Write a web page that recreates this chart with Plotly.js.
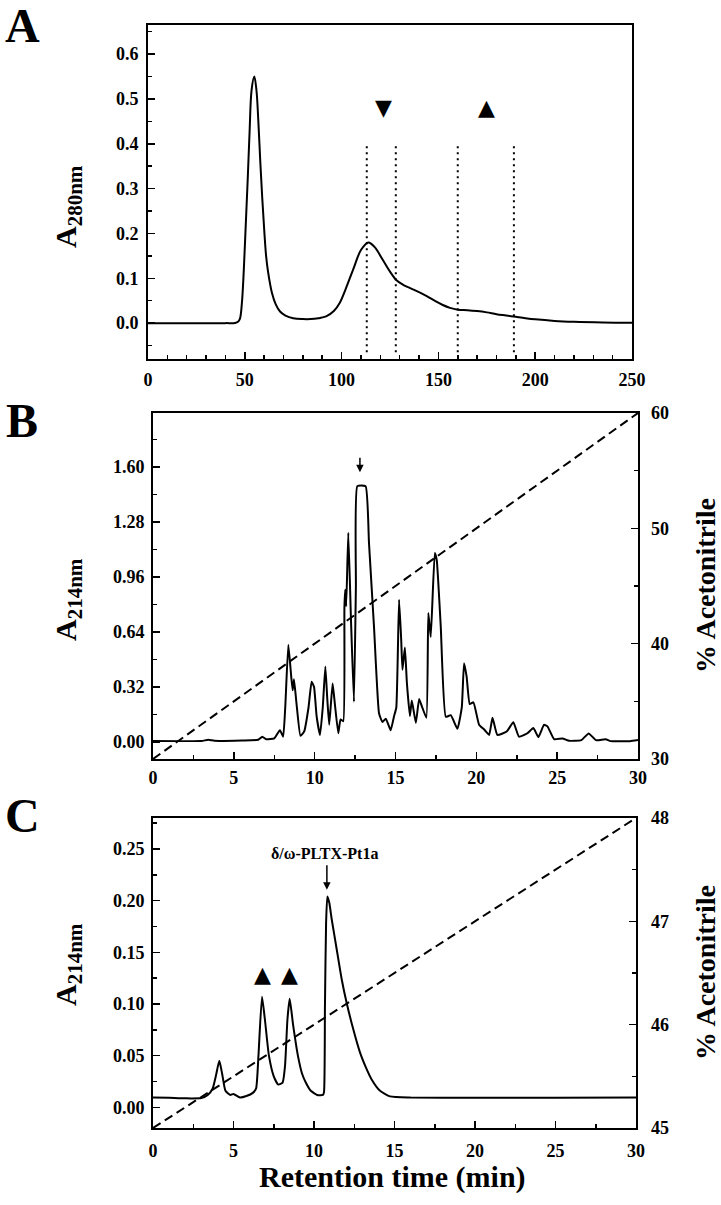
<!DOCTYPE html>
<html>
<head>
<meta charset="utf-8">
<script src="https://cdn.plot.ly/plotly-3.0.1.min.js"></script>
<style>html,body{margin:0;padding:0;background:#fff}#chart{width:721px;height:1205px}</style>
</head>
<body>
<div id="chart"></div>
<script>
// ---------- Panel A: gel filtration, A280 ----------
const A_time = [0, 20, 40, 45, 46.5, 47.5, 48.5, 49.5, 50.5, 51.5, 52.5, 53.5, 54.9, 56, 57, 58, 59, 60, 61, 62, 64, 66, 68.2, 71, 75, 80, 84, 88, 92, 96, 99, 102, 106, 110, 113.8, 117, 121, 125, 128.5, 132, 136, 140, 144, 148, 152, 156, 160, 165, 170, 175, 180, 185, 190, 195, 200, 210, 220, 235, 250];
const A_abs  = [0, 0, 0, 0.0005, 0.003, 0.01, 0.045, 0.12, 0.22, 0.32, 0.43, 0.52, 0.55, 0.52, 0.45, 0.36, 0.28, 0.21, 0.15, 0.115, 0.068, 0.042, 0.026, 0.017, 0.011, 0.009, 0.009, 0.011, 0.015, 0.027, 0.045, 0.075, 0.12, 0.163, 0.18, 0.17, 0.143, 0.115, 0.095, 0.085, 0.077, 0.069, 0.06, 0.05, 0.041, 0.034, 0.030, 0.029, 0.027, 0.024, 0.02, 0.017, 0.014, 0.011, 0.0085, 0.005, 0.003, 0.0015, 0.001];
const A_fractionCuts = [113, 128, 160, 189];
const A_markers = [{x: 121.4, sym: '▼'}, {x: 174.6, sym: '▲'}];

// ---------- Panel B: RP-HPLC, A214 ----------
const B_time = [0, 3.0, 3.42, 3.8, 5.5, 6.5, 6.76, 7.0, 7.5, 7.85, 8.05, 8.18, 8.37, 8.55, 8.64, 8.72, 8.88, 9.12, 9.35, 9.62, 9.81, 9.96, 10.12, 10.33, 10.5, 10.66, 10.78, 10.9, 11.11, 11.25, 11.46, 11.6, 11.77, 11.84, 11.89, 11.95, 12.08, 12.25, 12.43, 12.55, 12.64, 13.15, 13.36, 13.67, 13.98, 14.19, 14.4, 14.7, 14.9, 15.05, 15.22, 15.35, 15.43, 15.58, 15.7, 15.89, 16.01, 16.26, 16.46, 16.62, 16.91, 17.03, 17.18, 17.43, 17.55, 17.8, 18.11, 18.42, 18.83, 19.1, 19.24, 19.4, 19.59, 19.82, 20.17, 20.5, 20.79, 21.0, 21.3, 21.88, 22.29, 22.64, 23.16, 23.53, 23.84, 24.19, 24.4, 24.81, 25.33, 25.74, 26.5, 26.95, 27.4, 28.0, 28.3, 29.5, 30];
const B_abs  = [0.005, 0.005, 0.012, 0.006, 0.008, 0.012, 0.03, 0.015, 0.02, 0.068, 0.03, 0.2, 0.565, 0.38, 0.30, 0.364, 0.22, 0.035, 0.06, 0.2, 0.35, 0.32, 0.15, 0.04, 0.2, 0.438, 0.25, 0.1, 0.34, 0.22, 0.05, 0.13, 0.12, 0.78, 0.885, 0.79, 1.217, 0.7, 0.234, 0.9, 1.489, 1.489, 1.158, 0.67, 0.166, 0.116, 0.135, 0.067, 0.145, 0.2, 0.827, 0.6, 0.42, 0.55, 0.35, 0.15, 0.24, 0.11, 0.25, 0.21, 0.14, 0.75, 0.61, 1.10, 1.06, 0.67, 0.146, 0.155, 0.076, 0.2, 0.458, 0.38, 0.22, 0.23, 0.10, 0.07, 0.04, 0.14, 0.04, 0.06, 0.114, 0.03, 0.05, 0.08, 0.027, 0.10, 0.09, 0.016, 0.02, 0.006, 0.01, 0.049, 0.01, 0.015, 0.004, 0.004, 0.01];
const B_gradTime = [0, 30];
const B_gradACN  = [30, 60];
const B_arrowX = 12.8;

// ---------- Panel C: RP-HPLC, A214 ----------
const C_time = [0, 1, 2, 3, 3.4, 3.7, 3.9, 4.12, 4.3, 4.5, 4.8, 5.0, 5.4, 5.8, 6.2, 6.4, 6.55, 6.77, 6.95, 7.2, 7.5, 7.78, 8.05, 8.2, 8.35, 8.49, 8.7, 9.0, 9.25, 9.49, 9.8, 10.2, 10.55, 10.62, 10.68, 10.75, 10.83, 10.95, 11.1, 11.41, 11.72, 12.03, 12.44, 12.86, 13.27, 13.58, 14.1, 14.72, 16, 20, 25, 30];
const C_abs  = [0.0095, 0.0092, 0.0087, 0.009, 0.012, 0.018, 0.03, 0.045, 0.032, 0.016, 0.012, 0.013, 0.0096, 0.011, 0.014, 0.018, 0.05, 0.107, 0.085, 0.05, 0.03, 0.022, 0.024, 0.04, 0.085, 0.105, 0.08, 0.05, 0.033, 0.024, 0.016, 0.012, 0.012, 0.0145, 0.098, 0.178, 0.204, 0.198, 0.182, 0.153, 0.124, 0.101, 0.0755, 0.053, 0.037, 0.027, 0.016, 0.0106, 0.0095, 0.0092, 0.0092, 0.0095];
const C_gradTime = [0, 30];
const C_gradACN  = [45, 48];
const C_markersX = [6.77, 8.45];
const C_peakLabel = 'δ/ω-PLTX-Pt1a';
const C_arrowX = 10.8;

// ---------- layout helpers ----------
const W = 721, H = 1205;
const P = px => px / W;
const Q = py => 1 - py / H;
const SERIF = 'Liberation Serif';
const tickFont = {family: SERIF, size: 18, color: '#000', weight: 'bold'};

function axis(extra) {
  return Object.assign({
    showline: true, linecolor: '#000', linewidth: 2,
    ticks: 'inside', ticklen: 7, tickwidth: 1.5, tickcolor: '#000',
    showgrid: false, zeroline: false, tickfont: tickFont,
    fixedrange: true
  }, extra);
}
const minorTicks = d => ({dtick: d, ticklen: 4, tickwidth: 1.5, tickcolor: '#000', ticks: 'inside'});

const lineStyle = {color: '#000', width: 2};
const dashStyle = {color: '#000', width: 2, dash: '9px,5px'};

const traces = [
  {x: A_time, y: A_abs, xaxis: 'x', yaxis: 'y', mode: 'lines', line: Object.assign({shape: 'spline', smoothing: 1}, lineStyle), hoverinfo: 'skip'},
  {x: B_time, y: B_abs, xaxis: 'x2', yaxis: 'y2', mode: 'lines', line: Object.assign({shape: 'spline', smoothing: 0.4}, lineStyle), hoverinfo: 'skip'},
  {x: B_gradTime, y: B_gradACN, xaxis: 'x2', yaxis: 'y4', mode: 'lines', line: dashStyle, hoverinfo: 'skip'},
  {x: C_time, y: C_abs, xaxis: 'x3', yaxis: 'y3', mode: 'lines', line: Object.assign({shape: 'spline', smoothing: 0.5}, lineStyle), hoverinfo: 'skip'},
  {x: C_gradTime, y: C_gradACN, xaxis: 'x3', yaxis: 'y5', mode: 'lines', line: dashStyle, hoverinfo: 'skip'}
];

const shapes = A_fractionCuts.map(c => ({
  type: 'line', xref: 'x', yref: 'y', x0: c, x1: c, y0: -0.065, y1: 0.40,
  line: {color: '#000', width: 2, dash: '2px,4px'}
}));

const bigLetter = {family: SERIF, size: 48, color: '#000', weight: 'bold'};
const titleFont = {family: SERIF, size: 30, color: '#000', weight: 'bold'};
const rightTitleFont = {family: SERIF, size: 28, color: '#000', weight: 'bold'};
const triFont = {family: 'DejaVu Sans', size: 22, color: '#000'};

function paperText(text, xpx, ypx, font, angle) {
  return {text: text, xref: 'paper', yref: 'paper', x: P(xpx), y: Q(ypx), xanchor: 'center', yanchor: 'middle',
          textangle: angle || 0, showarrow: false, font: font};
}

const annotations = [
  paperText('A', 22, 25, bigLetter),
  paperText('B', 22, 420, bigLetter),
  paperText('C', 22, 815, bigLetter),
  paperText('A<sub>280nm</sub>', 68, 207, titleFont, -90),
  paperText('A<sub>214nm</sub>', 68, 600, titleFont, -90),
  paperText('A<sub>214nm</sub>', 68, 965, titleFont, -90),
  paperText('% Acetonitrile', 705, 586, rightTitleFont, -90),
  paperText('% Acetonitrile', 705, 973, rightTitleFont, -90),
  paperText('Retention time (min)', 392, 1177, {family: SERIF, size: 30, color: '#000', weight: 'bold'}),
  // B arrow
  {text: '', xref: 'x2', yref: 'y2', x: B_arrowX, y: 1.57, ax: 0, ay: -16, showarrow: true, arrowhead: 2, arrowsize: 1, arrowwidth: 1.5, arrowcolor: '#000'},
  // C arrow + label
  {text: '', xref: 'x3', yref: 'y3', x: C_arrowX, y: 0.2105, ax: 0, ay: -26, showarrow: true, arrowhead: 2, arrowsize: 1, arrowwidth: 1.5, arrowcolor: '#000'},
  {text: C_peakLabel, xref: 'x3', yref: 'y3', x: 10.68, y: 0.246, xanchor: 'center', yanchor: 'middle', showarrow: false, font: {family: SERIF, size: 16, color: '#000', weight: 'bold'}}
];
A_markers.forEach(m => annotations.push({text: m.sym, xref: 'x', yref: 'y', x: m.x, y: 0.48, xanchor: 'center', yanchor: 'middle', showarrow: false, font: triFont}));
C_markersX.forEach(x => annotations.push({text: '▲', xref: 'x3', yref: 'y3', x: x, y: 0.1285, xanchor: 'center', yanchor: 'middle', showarrow: false, font: triFont}));

const layout = {
  width: W, height: H,
  margin: {l: 0, r: 0, t: 0, b: 0},
  paper_bgcolor: '#fff', plot_bgcolor: '#fff',
  showlegend: false,
  font: {family: SERIF, color: '#000'},
  xaxis: axis({domain: [P(148), P(632)], anchor: 'y', range: [0, 250], tick0: 0, dtick: 50, mirror: true,
    minor: minorTicks(10), ticklabelstandoff: 3}),
  yaxis: axis({domain: [Q(359), Q(25)], anchor: 'x', range: [-0.08, 0.665], tick0: 0, dtick: 0.1, tickformat: '.1f', mirror: true,
    minor: minorTicks(0.05), ticklabelstandoff: 4}),
  xaxis2: axis({domain: [P(153), P(638)], anchor: 'y2', range: [0, 30], tick0: 0, dtick: 5, mirror: true,
    minor: minorTicks(2.5), ticklabelstandoff: 1}),
  yaxis2: axis({domain: [Q(759), Q(413)], anchor: 'x2', range: [-0.1, 1.915], tick0: 0, dtick: 0.32, tickformat: '.2f', mirror: true,
    minor: minorTicks(0.16), ticklabelstandoff: 3}),
  yaxis4: axis({overlaying: 'y2', anchor: 'x2', side: 'right', range: [30, 60], tick0: 30, dtick: 10, showline: false,
    minor: minorTicks(5), ticklabelstandoff: 12}),
  xaxis3: axis({domain: [P(153), P(636)], anchor: 'y3', range: [0, 30], tick0: 0, dtick: 5, mirror: true,
    minor: minorTicks(2.5), ticklabelstandoff: 5}),
  yaxis3: axis({domain: [Q(1128), Q(818)], anchor: 'x3', range: [-0.02, 0.28], tick0: 0, dtick: 0.05, tickformat: '.2f', mirror: true,
    minor: minorTicks(0.025), ticklabelstandoff: 3}),
  yaxis5: axis({overlaying: 'y3', anchor: 'x3', side: 'right', range: [45, 48], tick0: 45, dtick: 1, showline: false,
    minor: minorTicks(0.5), ticklabelstandoff: 14}),
  shapes: shapes,
  annotations: annotations
};

Plotly.newPlot('chart', traces, layout, {staticPlot: true, displayModeBar: false});
</script>
</body>
</html>
